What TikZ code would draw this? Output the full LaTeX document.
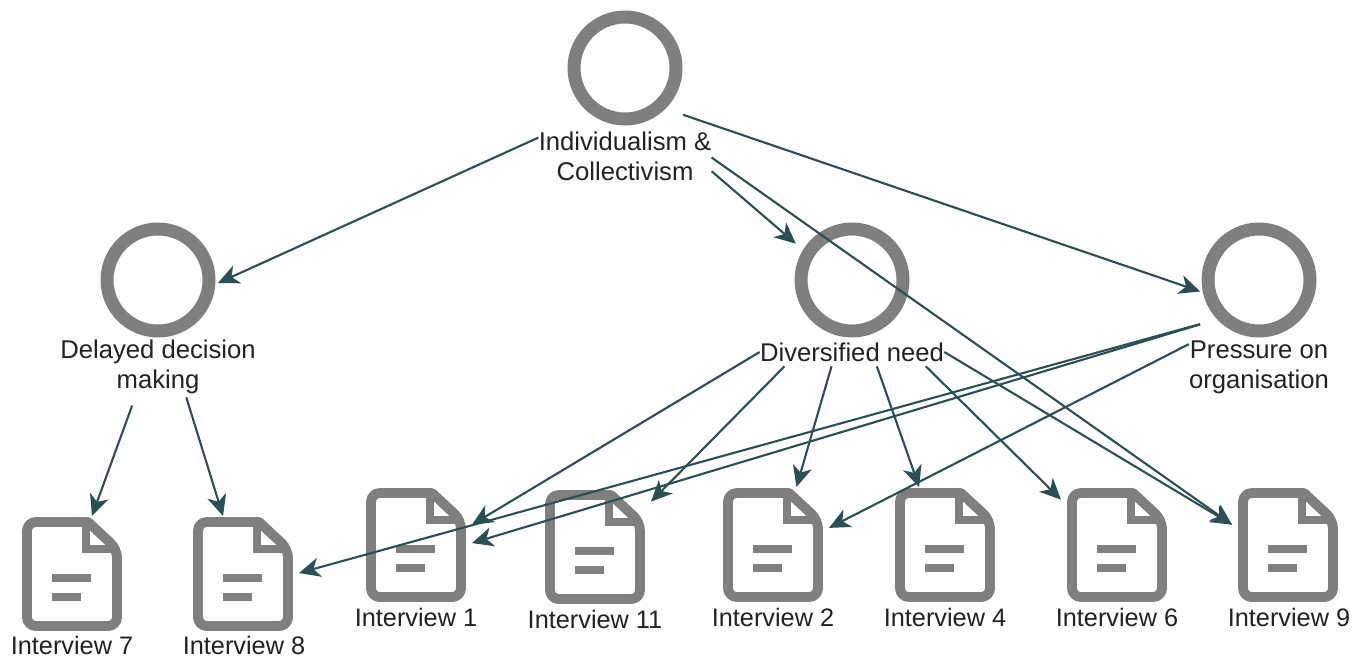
\documentclass[tikz,border=0pt]{standalone}
\usepackage{fontspec}
\setmainfont{Liberation Sans}
\usetikzlibrary{arrows.meta}
\definecolor{ringgray}{HTML}{7F7F7F}
\definecolor{linkteal}{HTML}{2A4F55}
\definecolor{textblack}{HTML}{222222}
\tikzset{
    ring/.style={circle,draw=ringgray,line width=7.4pt,minimum size=2.04cm,inner sep=0pt,outer sep=5.1pt},
    ringlabel/.style={align=center,inner sep=0pt,text=textblack,font=\fontsize{14.6}{17}\selectfont},
    docnode/.style={rectangle,minimum width=2.24cm,minimum height=2.32cm,inner sep=0pt,outer sep=0pt},
    doclabel/.style={inner sep=0pt,text=textblack,font=\fontsize{14.4}{17}\selectfont},
    link/.style={linkteal,line width=1.2pt,-{Stealth[length=12pt,width=11pt,inset=3.5pt]}},
    pics/docicon/.style={code={
        \draw[ringgray,line width=5.6pt,rounded corners=5pt,line join=round] (0,-52) -- (-45,-52) -- (-45,52) -- (45,52) -- (45,-25) [sharp corners] -- (16,-52) -- cycle;
        \draw[ringgray,line width=4.6pt] (14,-50) -- (14,-25) -- (44,-25);
        \draw[ringgray,line width=4.6pt] (-20,4) -- (19,4);
        \draw[ringgray,line width=4.6pt] (-20,23) -- (9,23);
    }},
}
\begin{document}
\begin{tikzpicture}[x=0.02cm,y=-0.02cm]
    \useasboundingbox (0,0) rectangle (1364,659);

    % Top level theme
    \node[ring] (indiv) at (625,68) {};
    \node[ringlabel,minimum width=3.44cm,minimum height=1.2cm] (indivlabel) at (625,156) {Individualism \&\\Collectivism};

    % Second level themes
    \node[ring] (delayed) at (158,280) {};
    \node[ringlabel,minimum width=3.88cm,minimum height=1.2cm] (delayedlabel) at (158,367) {Delayed decision\\making};
    \node[ring] (diverse) at (852,280) {};
    \node[ringlabel,minimum width=3.66cm,minimum height=0.56cm] (diverselabel) at (852,352) {Diversified need};
    \node[ring] (pressure) at (1259,280) {};
    \node[ringlabel,minimum width=2.76cm,minimum height=1.2cm] (pressurelabel) at (1259,367) {Pressure on\\organisation};

    % Interview documents
    \node[docnode] (iview7) at (72,574) {}; \pic at (iview7) {docicon};
    \node[docnode] (iview8) at (243,574) {}; \pic at (iview8) {docicon};
    \node[docnode] (iview1) at (416,545) {}; \pic at (iview1) {docicon};
    \node[docnode] (iview11) at (595,547) {}; \pic at (iview11) {docicon};
    \node[docnode] (iview2) at (773,545) {}; \pic at (iview2) {docicon};
    \node[docnode] (iview4) at (945,545) {}; \pic at (iview4) {docicon};
    \node[docnode] (iview6) at (1117,545) {}; \pic at (iview6) {docicon};
    \node[docnode] (iview9) at (1288,545) {}; \pic at (iview9) {docicon};

    % Interview labels
    \node[doclabel] (iview7label) at (72,645) {Interview 7};
    \node[doclabel] (iview8label) at (244,645) {Interview 8};
    \node[doclabel] (iview1label) at (416,617) {Interview 1};
    \node[doclabel] (iview11label) at (595,619) {Interview 11};
    \node[doclabel] (iview2label) at (773,617) {Interview 2};
    \node[doclabel] (iview4label) at (945,617) {Interview 4};
    \node[doclabel] (iview6label) at (1117,617) {Interview 6};
    \begin{scope}
        \clip (0,0) rectangle (1350,659);
        \node[doclabel] (iview9label) at (1289,617) {Interview 9};
    \end{scope}

    % Links from the top theme
    \draw[link] (indivlabel.168) -- (delayed.-3);
    \draw[link,shorten >=4pt] (indivlabel.-10.4) -- (diverse.148.4);
    \draw[link] (indivlabel.-1.3) -- (iview9.160.3);
    \draw[link,shorten <=9pt] (indiv.-44) -- (pressure.191.7);

    % Links to the interviews
    \draw[link,shorten <=5pt] (delayedlabel.233.7) -- (iview7.71);
    \draw[link] (delayedlabel.-47.9) -- (iview8.109.9);
    \draw[link] (diverselabel.180) -- (iview1.20.2);
    \draw[link] (diverselabel.192) -- (iview11.39.5);
    \draw[link] (diverselabel.215.5) -- (iview2.68.2);
    \draw[link] (diverselabel.-30) -- (iview4.114.4);
    \draw[link] (diverselabel.-11.6) -- (iview6.141.7);
    \draw[link] (diverselabel.0) -- (iview9.160.3);
    \draw[link,shorten <=8.5pt] (pressure.222.6) -- (iview1.2);
    \draw[link,shorten <=8.5pt] (pressure.222.6) -- (iview8.1);
    \draw[link] (pressurelabel.162.3) -- (iview2.17);
\end{tikzpicture}
\end{document}
